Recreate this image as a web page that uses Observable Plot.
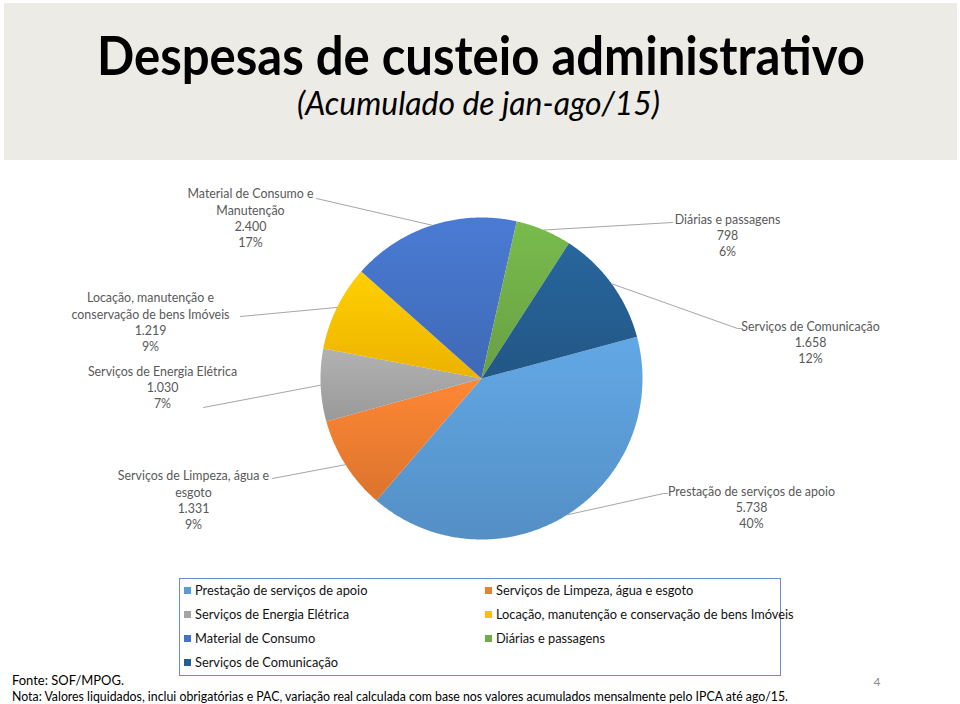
<!DOCTYPE html>
<html>
<head>
<meta charset="utf-8">
<script src="https://cdn.jsdelivr.net/npm/d3@7"></script>
<script src="https://cdn.jsdelivr.net/npm/@observablehq/plot@0.6"></script>
<style>
  html, body { margin: 0; padding: 0; background: #fff; overflow: hidden; }
  #page { position: relative; width: 960px; height: 704px; font-family: Lato, "Open Sans", sans-serif; }
  #legend { position: absolute; left: 179px; top: 578px; width: 602px; height: 98px; border: 1px solid #6A8CC8; box-sizing: border-box; }
  .li { position: absolute; font-size: 12.8px; color: #111; white-space: nowrap; line-height: 16px; }
  .sw { display: inline-block; width: 7px; height: 7px; margin-right: 4px; vertical-align: 1px; }
  #footer { position: absolute; left: 0; top: 666px; }
</style>
</head>
<body>
<div id="page">
  <svg id="header" width="960" height="163" style="display:block">
    <rect x="4" y="3" width="953" height="157" fill="#ECEBE5"></rect>
    <text id="title" x="481" y="75" text-anchor="middle" font-family="Lato" font-weight="bold" font-size="53" fill="#000" textLength="768" lengthAdjust="spacingAndGlyphs"></text>
    <text id="subtitle" x="478.5" y="115" text-anchor="middle" font-family="Lato" font-style="italic" font-size="32" fill="#000" textLength="363" lengthAdjust="spacingAndGlyphs"></text>
  </svg>
  <div id="chart"></div>
  <div id="legend"></div>
  <svg id="footer" width="960" height="38">
    <text id="fonte" x="12" y="19" font-family="Lato" font-size="13.5" fill="#000" textLength="112" lengthAdjust="spacingAndGlyphs"></text>
    <text id="nota" x="12" y="35" font-family="Lato" font-size="13.5" fill="#000" textLength="776" lengthAdjust="spacingAndGlyphs"></text>
    <text id="pagenum" x="877" y="20" font-family="Lato" font-size="12" fill="#8C8C8C" text-anchor="middle"></text>
  </svg>
</div>
<script>
// ---------- data ----------
const titleText = "Despesas de custeio administrativo";
const subtitleText = "(Acumulado de jan-ago/15)";
const categories = [
  "Prestação de serviços de apoio",
  "Serviços de Limpeza, água e esgoto",
  "Serviços de Energia Elétrica",
  "Locação, manutenção e conservação de bens Imóveis",
  "Material de Consumo",
  "Diárias e passagens",
  "Serviços de Comunicação"
];
const values = [5738, 1331, 1030, 1219, 2400, 798, 1658];
const labelNames = [
  "Prestação de serviços de apoio",
  "Serviços de Limpeza, água e\nesgoto",
  "Serviços de Energia Elétrica",
  "Locação, manutenção e\nconservação de bens Imóveis",
  "Material de Consumo e\nManutenção",
  "Diárias e passagens",
  "Serviços de Comunicação"
];
const colors = ["#5B9BD5", "#ED7D31", "#A5A5A5", "#FFC000", "#4472C4", "#70AD47", "#255E91"];
const sourceText = "Fonte: SOF/MPOG.";
const noteText = "Nota: Valores liquidados, inclui obrigatórias e PAC, variação real calculada com base nos valores acumulados mensalmente pelo IPCA até ago/15.";
const pageNumber = "4";

// ---------- layout (page pixel coordinates) ----------
const pie = { cx: 481, cy: 378, r: 161, startDeg: 75 };
const labelAnchor = [[751, 506], [193, 499], [162, 386.5], [150, 321], [250, 217], [727, 234], [810, 341]];
const leaderTail = [
  [[663, 493], [667, 493]],
  [[272, 478]],
  [[203, 407]],
  [[240, 316]],
  [[316, 198]],
  [[672, 222]],
  [[737, 328], [742, 328]]
];

document.getElementById("title").textContent = titleText;
document.getElementById("subtitle").textContent = subtitleText;
document.getElementById("fonte").textContent = sourceText;
document.getElementById("nota").textContent = noteText;
document.getElementById("pagenum").textContent = pageNumber;

const ptBR = d3.formatLocale({decimal: ",", thousands: ".", grouping: [3], currency: ["R$", ""]});
const fmt = ptBR.format(",d");
const total = d3.sum(values);

const s0 = pie.startDeg * Math.PI / 180;
const arcs = d3.pie().sort(null).startAngle(s0).endAngle(s0 + 2 * Math.PI)(values);
const px = a => pie.cx + pie.r * Math.sin(a);
const py = a => pie.cy - pie.r * Math.cos(a);

const slicePts = arcs.map((a, i) => {
  const pts = [{x: pie.cx, y: pie.cy}];
  const n = Math.max(2, Math.ceil((a.endAngle - a.startAngle) / (Math.PI / 360)));
  for (let k = 0; k <= n; k++) {
    const t = a.startAngle + (a.endAngle - a.startAngle) * k / n;
    pts.push({x: px(t), y: py(t)});
  }
  pts.push({x: pie.cx, y: pie.cy});
  return pts;
});

const labels = arcs.map((a, i) => ({
  x: labelAnchor[i][0], y: labelAnchor[i][1],
  text: `${labelNames[i]}\n${fmt(values[i])}\n${Math.round(values[i] / total * 100)}%`
}));

const leaders = [];
arcs.forEach((a, i) => {
  const m = (a.startAngle + a.endAngle) / 2;
  leaders.push({id: i, x: px(m), y: py(m)});
  leaderTail[i].forEach(p => leaders.push({id: i, x: p[0], y: p[1]}));
});

const defsMark = () => {
  const ns = "http://www.w3.org/2000/svg";
  const defs = document.createElementNS(ns, "defs");
  colors.forEach((c, i) => {
    const g = document.createElementNS(ns, "linearGradient");
    g.setAttribute("id", "slice-grad-" + i);
    g.setAttribute("x1", "0"); g.setAttribute("y1", "0");
    g.setAttribute("x2", "0"); g.setAttribute("y2", "1");
    [[0, d3.color(c).brighter(0.22)], [1, d3.color(c).darker(0.22)]].forEach(([o, col]) => {
      const s = document.createElementNS(ns, "stop");
      s.setAttribute("offset", o);
      s.setAttribute("stop-color", col.formatHex());
      g.appendChild(s);
    });
    defs.appendChild(g);
  });
  return defs;
};

const chart = Plot.plot({
  width: 960,
  height: 410,
  margin: 0,
  x: {domain: [0, 960], range: [0, 960], axis: null},
  y: {domain: [163, 573], range: [0, 410], axis: null},
  style: {background: "transparent", fontFamily: "Lato, sans-serif", overflow: "visible"},
  marks: [
    defsMark,
    ...slicePts.map((pts, i) => Plot.line(pts, {x: "x", y: "y", fill: `url(#slice-grad-${i})`, stroke: "none"})),
    Plot.line(leaders, {x: "x", y: "y", z: "id", stroke: "#A6A6A6", strokeWidth: 1}),
    Plot.text(labels, {x: "x", y: "y", text: "text", fill: "#595959", fontSize: 12.4, lineHeight: 1.3, textAnchor: "middle", lineAnchor: "middle"})
  ]
});
document.getElementById("chart").appendChild(chart);

// legend (row-major, two columns)
const legend = document.getElementById("legend");
categories.forEach((c, i) => {
  const row = Math.floor(i / 2), col = i % 2;
  const d = document.createElement("div");
  d.className = "li";
  d.style.left = (col === 0 ? 4 : 305) + "px";
  d.style.top = (3 + row * 24) + "px";
  const sw = document.createElement("span");
  sw.className = "sw";
  sw.style.background = colors[i];
  d.appendChild(sw);
  d.appendChild(document.createTextNode(c));
  legend.appendChild(d);
});
</script>
</body>
</html>
